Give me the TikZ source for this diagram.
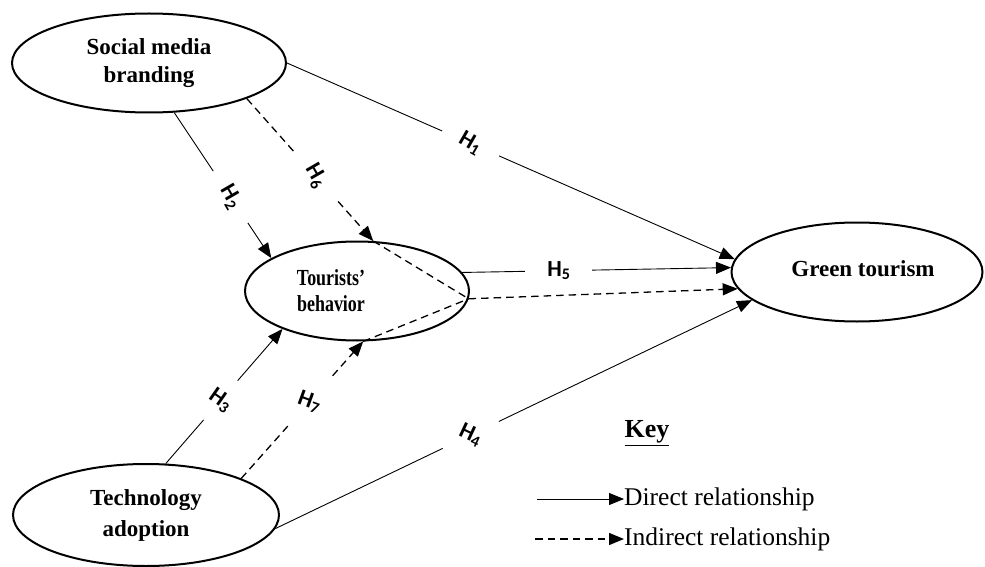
\documentclass[tikz,border=0pt]{standalone}
\usepackage{graphicx}
\usepackage{fontspec}
\setmainfont{Liberation Serif}
\newfontfamily\hfont{Carlito}
\usetikzlibrary{shapes.geometric,arrows.meta}

\begin{document}
\begin{tikzpicture}[x=1pt,y=-1pt,
    construct/.style={ellipse,draw,line width=2pt,inner sep=0pt,align=center,
        font=\fontsize{23}{28}\selectfont\bfseries},
    direct/.style={line width=0.9pt,-{Triangle[length=15pt,width=12pt]}},
    indirect/.style={direct,line width=1.3pt,dash pattern=on 7.5pt off 5pt},
    hyp/.style={circle,fill=white,minimum size=62pt,inner sep=0pt,
        font=\hfont\bfseries\fontsize{23}{23}\selectfont},
    keytext/.style={anchor=west,inner sep=0pt,font=\fontsize{25.5}{25.5}\selectfont}]
    \useasboundingbox (0,0) rectangle (985,567);
    \node[construct,minimum width=274pt,minimum height=99pt] (smb) at (149,63) {Social media\\branding};
    \node[construct,minimum width=224pt,minimum height=99pt,
        font=\fontsize{23}{26}\selectfont\bfseries] (tb) at (357,291)
        {\scalebox{0.78}[1]{Tourists’}\rule{52pt}{0pt}\\\scalebox{0.78}[1]{behavior}\rule{52pt}{0pt}};
    \node[construct,minimum width=251pt,minimum height=99pt] (gt) at (857,272)
        {\rule{12pt}{0pt}\raisebox{7pt}{Green tourism}};
    \node[construct,minimum width=266pt,minimum height=102pt,
        font=\fontsize{23}{31}\selectfont\bfseries] (ta) at (146,515) {Technology\\adoption};
    \coordinate (m) at (tb.-4);
    \draw[direct] (smb.east) -- node[hyp,pos=0.41,rotate=-30] (h1) {H\textsubscript{1}} (gt.174);
    \draw[direct] (smb.-63) -- node[hyp,pos=0.58,rotate=-60] (h2) {H\textsubscript{2}} (tb.159);
    \draw[direct] (ta.69) -- node[hyp,minimum size=52pt,pos=0.47,rotate=-35] (h3) {H\textsubscript{3}} (tb.207);
    \draw[direct] (ta.-6) -- node[hyp,pos=0.41,rotate=-25] (h4) {H\textsubscript{4}} (gt.195);
    \draw[direct] (tb.10) -- node[hyp,rectangle,minimum size=0pt,inner xsep=22pt,inner ysep=1pt,pos=0.36] (h5) {H\textsubscript{5}} (gt.178);
    \draw[indirect] (smb.-20) -- node[hyp,pos=0.545,rotate=-60] (h6) {H\textsubscript{6}} (tb.72);
    \draw[indirect] (ta.21) -- node[hyp,pos=0.56,rotate=-20] (h7) {H\textsubscript{7}} (tb.277);
    \draw[indirect,-] (tb.72) -- (m) (tb.277) -- (m);
    \draw[indirect] (m) -- (gt.188);
    \node[font=\fontsize{26}{26}\selectfont\bfseries] (key) at (647,433) {\underline{Key}};
    \node[keytext] (dr) at (624,499) {Direct relationship};
    \node[keytext] (ir) at (624,539) {Indirect relationship};
    \coordinate (d0) at (537,499);
    \coordinate (i0) at (535,539);
    \draw[direct] (d0) -- (dr.west);
    \draw[indirect] (i0) -- (ir.west);
\end{tikzpicture}
\end{document}
